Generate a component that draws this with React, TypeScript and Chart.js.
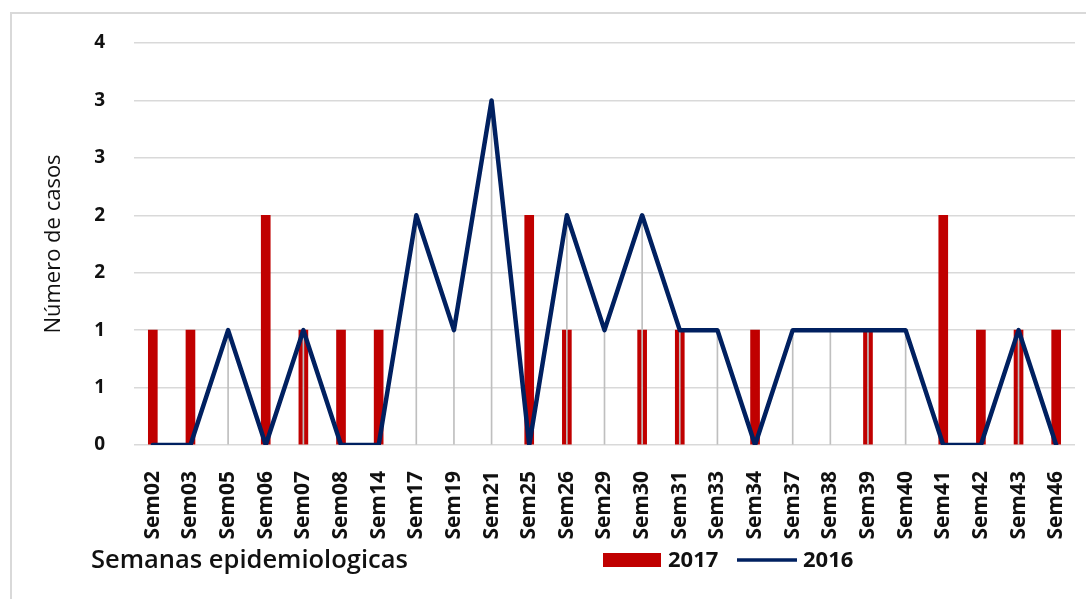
import React, { useEffect, useRef } from "react";
import { Chart, registerables } from "chart.js";

Chart.register(...registerables);

const categories = [
  "Sem02", "Sem03", "Sem05", "Sem06", "Sem07", "Sem08", "Sem14", "Sem17", "Sem19", "Sem21",
  "Sem25", "Sem26", "Sem29", "Sem30", "Sem31", "Sem33", "Sem34", "Sem37", "Sem38", "Sem39",
  "Sem40", "Sem41", "Sem42", "Sem43", "Sem46",
];
const cases2017 = [1, 1, 0, 2, 1, 1, 1, 0, 0, 0, 2, 1, 0, 1, 1, 0, 1, 0, 0, 1, 0, 2, 1, 1, 1];
const cases2016 = [0, 0, 1, 0, 1, 0, 0, 2, 1, 3, 0, 2, 1, 2, 1, 1, 0, 1, 1, 1, 1, 0, 0, 1, 0];
const yMin = 0;
const yMax = 3.5;
const yStep = 0.5;
const yTitle = "Número de casos";
const xTitle = "Semanas epidemiologicas";
const label2017 = "2017";
const label2016 = "2016";

const RED = "#C00000";
const NAVY = "#002060";
const DROP = "#BFBFBF";
const GRID = "#D9D9D9";
const FONT = "'Open Sans', 'Noto Sans', sans-serif";

const hideZero = (arr: number[]) => arr.map((v) => (v === 0 ? null : v));

const bottomLegend = {
  id: "bottomLegend",
  afterDraw(chart: any) {
    const ctx = chart.ctx;
    const y = 560;
    const ds = chart.data.datasets;
    ctx.save();
    ctx.textBaseline = "middle";
    ctx.textAlign = "left";
    ctx.fillStyle = "#111";
    ctx.font = `600 25.5px ${FONT}`;
    ctx.fillText(xTitle, 91, y + 1);

    ctx.fillStyle = ds[0].backgroundColor;
    ctx.fillRect(603, y - 7, 58, 14);
    ctx.fillStyle = "#111";
    ctx.font = `bold 22px ${FONT}`;
    ctx.fillText(ds[0].label, 668, y + 1);
    ctx.strokeStyle = ds[2].borderColor;
    ctx.lineWidth = 3.5;
    ctx.beginPath();
    ctx.moveTo(737, y);
    ctx.lineTo(797, y);
    ctx.stroke();
    ctx.fillText(ds[2].label, 803, y + 1);
    ctx.restore();
  },
};

export default function App() {
  const ref = useRef<HTMLCanvasElement | null>(null);

  useEffect(() => {
    if (!ref.current) return;
    const chart = new Chart(ref.current, {
      type: "bar",
      data: {
        labels: categories,
        datasets: [
          {
            type: "bar",
            label: label2017,
            data: hideZero(cases2017),
            backgroundColor: RED,
            barThickness: 9,
            grouped: false,
            order: 3,
          } as any,
          {
            type: "bar",
            label: "",
            data: hideZero(cases2016),
            backgroundColor: DROP,
            barThickness: 1,
            grouped: false,
            order: 2,
          } as any,
          {
            type: "line",
            label: label2016,
            data: cases2016,
            borderColor: NAVY,
            backgroundColor: NAVY,
            borderWidth: 4.5,
            borderJoinStyle: "round",
            borderCapStyle: "round",
            pointRadius: 0,
            tension: 0,
            order: 1,
          } as any,
        ],
      },
      options: {
        animation: false,
        responsive: true,
        maintainAspectRatio: false,
        layout: { padding: { left: 40, right: 11, top: 43, bottom: 0 } },
        plugins: {
          legend: { display: false },
          tooltip: { enabled: false },
        },
        scales: {
          x: {
            offset: true,
            grid: { display: false },
            border: { display: false },
            ticks: {
              autoSkip: false,
              maxRotation: 90,
              minRotation: 90,
              padding: 18,
              color: "#111",
              font: { family: FONT, size: 21, weight: "bold" },
            },
            afterFit: (s: any) => {
              s.height = 154;
              s.paddingLeft = 0;
              s.paddingRight = 0;
            },
          },
          y: {
            min: yMin,
            max: yMax,
            grid: { color: GRID, lineWidth: 1.5, drawTicks: false },
            border: { display: false },
            ticks: {
              stepSize: yStep,
              padding: 29,
              color: "#111",
              font: { family: FONT, size: 19, weight: "bold" },
              callback: (v: any) => String(Math.round(Number(v))),
            },
            title: {
              display: true,
              text: yTitle,
              color: "#111",
              padding: { top: 1, bottom: 0 },
              font: { family: FONT, size: 22, weight: "normal" },
            },
            afterFit: (s: any) => {
              s.width = 94;
              s.paddingTop = 0;
              s.paddingBottom = 0;
            },
          },
        },
      },
      plugins: [bottomLegend],
    });
    return () => chart.destroy();
  }, []);

  return (
    <div style={{ position: "fixed", left: 0, top: 0, width: 1086, height: 599, background: "#fff" }}>
      <canvas ref={ref} />
      <div
        style={{
          position: "absolute",
          left: 10,
          top: 12,
          right: 0,
          bottom: 0,
          borderLeft: `2px solid ${GRID}`,
          borderTop: `2px solid ${GRID}`,
          pointerEvents: "none",
        }}
      />
    </div>
  );
}
